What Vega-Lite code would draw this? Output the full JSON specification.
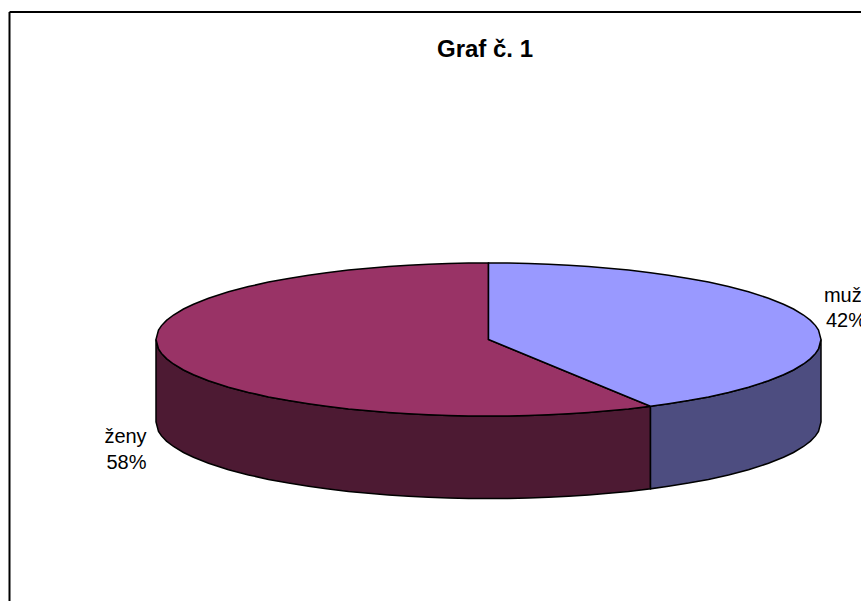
{"$schema":"https://vega.github.io/schema/vega-lite/v6.json","width":861,"height":601,"padding":0,"autosize":{"type":"none"},"background":"white","view":{"stroke":null},
"datasets":{
"top_muzi":[{"i":1,"x":488.5,"y":263,"y2":339.5},{"i":2,"x":508.5,"y":263.1,"y2":347.7},{"i":3,"x":528.5,"y":263.6,"y2":356},{"i":4,"x":548.5,"y":264.3,"y2":364.2},{"i":5,"x":568.5,"y":265.2,"y2":372.5},{"i":6,"x":588.5,"y":266.5,"y2":380.7},{"i":7,"x":608.5,"y":268.2,"y2":389},{"i":8,"x":628.5,"y":270.1,"y2":397.2},{"i":9,"x":650.5,"y":272.7,"y2":406.3},{"i":10,"x":668.5,"y":275.2,"y2":403.8},{"i":11,"x":688.5,"y":278.4,"y2":400.6},{"i":12,"x":708.5,"y":282.1,"y2":396.9},{"i":13,"x":728.5,"y":286.6,"y2":392.4},{"i":14,"x":748.5,"y":291.8,"y2":387.2},{"i":15,"x":768.5,"y":298.2,"y2":380.8},{"i":16,"x":783.5,"y":304.2,"y2":374.8},{"i":17,"x":793.5,"y":309,"y2":370},{"i":18,"x":803.5,"y":315,"y2":364},{"i":19,"x":810.5,"y":320.4,"y2":358.6},{"i":20,"x":815.5,"y":325.6,"y2":353.4},{"i":21,"x":818.5,"y":330.1,"y2":348.9},{"i":22,"x":821,"y":339.5,"y2":339.5}],
"top_zeny":[{"i":1,"x":156,"y":339.5,"y2":339.5},{"i":2,"x":158.5,"y":330.1,"y2":348.9},{"i":3,"x":161.5,"y":325.6,"y2":353.4},{"i":4,"x":166.5,"y":320.4,"y2":358.6},{"i":5,"x":173.5,"y":315,"y2":364},{"i":6,"x":183.5,"y":309,"y2":370},{"i":7,"x":193.5,"y":304.2,"y2":374.8},{"i":8,"x":208.5,"y":298.2,"y2":380.8},{"i":9,"x":228.5,"y":291.8,"y2":387.2},{"i":10,"x":248.5,"y":286.6,"y2":392.4},{"i":11,"x":268.5,"y":282.1,"y2":396.9},{"i":12,"x":288.5,"y":278.4,"y2":400.6},{"i":13,"x":308.5,"y":275.2,"y2":403.8},{"i":14,"x":326.5,"y":272.7,"y2":406.3},{"i":15,"x":348.5,"y":270.1,"y2":408.9},{"i":16,"x":368.5,"y":268.2,"y2":410.8},{"i":17,"x":388.5,"y":266.5,"y2":412.5},{"i":18,"x":408.5,"y":265.2,"y2":413.8},{"i":19,"x":428.5,"y":264.3,"y2":414.7},{"i":20,"x":448.5,"y":263.6,"y2":415.4},{"i":21,"x":468.5,"y":263.1,"y2":415.9},{"i":22,"x":488.5,"y":263,"y2":416},{"i":23,"x":488.5,"y":339.5,"y2":416},{"i":24,"x":508.5,"y":347.7,"y2":415.9},{"i":25,"x":528.5,"y":356,"y2":415.4},{"i":26,"x":548.5,"y":364.2,"y2":414.7},{"i":27,"x":568.5,"y":372.5,"y2":413.8},{"i":28,"x":588.5,"y":380.7,"y2":412.5},{"i":29,"x":608.5,"y":389,"y2":410.8},{"i":30,"x":628.5,"y":397.2,"y2":408.9},{"i":31,"x":650.5,"y":406.3,"y2":406.3}],
"side_muzi":[{"i":1,"x":650.5,"y":406.3,"y2":488.8},{"i":2,"x":668.5,"y":403.8,"y2":486.3},{"i":3,"x":688.5,"y":400.6,"y2":483.1},{"i":4,"x":708.5,"y":396.9,"y2":479.4},{"i":5,"x":728.5,"y":392.4,"y2":474.9},{"i":6,"x":748.5,"y":387.2,"y2":469.7},{"i":7,"x":768.5,"y":380.8,"y2":463.3},{"i":8,"x":783.5,"y":374.8,"y2":457.3},{"i":9,"x":793.5,"y":370,"y2":452.5},{"i":10,"x":803.5,"y":364,"y2":446.5},{"i":11,"x":810.5,"y":358.6,"y2":441.1},{"i":12,"x":815.5,"y":353.4,"y2":435.9},{"i":13,"x":818.5,"y":348.9,"y2":431.4},{"i":14,"x":821,"y":339.5,"y2":422}],
"side_zeny":[{"i":1,"x":156,"y":339.5,"y2":422},{"i":2,"x":158.5,"y":348.9,"y2":431.4},{"i":3,"x":161.5,"y":353.4,"y2":435.9},{"i":4,"x":166.5,"y":358.6,"y2":441.1},{"i":5,"x":173.5,"y":364,"y2":446.5},{"i":6,"x":183.5,"y":370,"y2":452.5},{"i":7,"x":193.5,"y":374.8,"y2":457.3},{"i":8,"x":208.5,"y":380.8,"y2":463.3},{"i":9,"x":228.5,"y":387.2,"y2":469.7},{"i":10,"x":248.5,"y":392.4,"y2":474.9},{"i":11,"x":268.5,"y":396.9,"y2":479.4},{"i":12,"x":288.5,"y":400.6,"y2":483.1},{"i":13,"x":308.5,"y":403.8,"y2":486.3},{"i":14,"x":326.5,"y":406.3,"y2":488.8},{"i":15,"x":348.5,"y":408.9,"y2":491.4},{"i":16,"x":368.5,"y":410.8,"y2":493.3},{"i":17,"x":388.5,"y":412.5,"y2":495},{"i":18,"x":408.5,"y":413.8,"y2":496.3},{"i":19,"x":428.5,"y":414.7,"y2":497.2},{"i":20,"x":448.5,"y":415.4,"y2":497.9},{"i":21,"x":468.5,"y":415.9,"y2":498.4},{"i":22,"x":488.5,"y":416,"y2":498.5},{"i":23,"x":508.5,"y":415.9,"y2":498.4},{"i":24,"x":528.5,"y":415.4,"y2":497.9},{"i":25,"x":548.5,"y":414.7,"y2":497.2},{"i":26,"x":568.5,"y":413.8,"y2":496.3},{"i":27,"x":588.5,"y":412.5,"y2":495},{"i":28,"x":608.5,"y":410.8,"y2":493.3},{"i":29,"x":628.5,"y":408.9,"y2":491.4},{"i":30,"x":650.5,"y":406.3,"y2":488.8}],
"frame_top":[{"x":9.5,"x2":861,"y":12}],
"frame_left":[{"x":9.5,"y":12,"y2":601}],
"labels":[{"t":"muži","x":845,"y":302},{"t":"42%","x":846,"y":327},{"t":"ženy","x":125.5,"y":443},{"t":"58%","x":126.5,"y":469}],
"title":[{"t":"Graf č. 1","x":485,"y":57}]
},
"encoding":{
"x":{"field":"x","type":"quantitative","scale":{"domain":[0,861],"nice":false,"zero":false},"axis":null},
"y":{"field":"y","type":"quantitative","scale":{"domain":[601,0],"nice":false,"zero":false},"axis":null}
},
"layer":[
{"data":{"name":"side_zeny"},"mark":{"type":"area","orient":"vertical","color":"#4D1A33","stroke":"#000000","strokeWidth":1.5},"encoding":{"y2":{"field":"y2"}}},
{"data":{"name":"side_muzi"},"mark":{"type":"area","orient":"vertical","color":"#4D4D80","stroke":"#000000","strokeWidth":1.5},"encoding":{"y2":{"field":"y2"}}},
{"data":{"name":"top_zeny"},"mark":{"type":"area","orient":"vertical","color":"#993366","stroke":"#000000","strokeWidth":1.5},"encoding":{"y2":{"field":"y2"}}},
{"data":{"name":"top_muzi"},"mark":{"type":"area","orient":"vertical","color":"#9999FF","stroke":"#000000","strokeWidth":1.5},"encoding":{"y2":{"field":"y2"}}},
{"data":{"name":"frame_top"},"mark":{"type":"rule","color":"#000000","strokeWidth":2},"encoding":{"x2":{"field":"x2"}}},
{"data":{"name":"frame_left"},"mark":{"type":"rule","color":"#000000","strokeWidth":2},"encoding":{"y2":{"field":"y2"}}},
{"data":{"name":"labels"},"mark":{"type":"text","font":"Liberation Sans","fontSize":20,"color":"#000000","align":"center","baseline":"alphabetic"},"encoding":{"text":{"field":"t"}}},
{"data":{"name":"title"},"mark":{"type":"text","font":"Liberation Sans","fontSize":24,"fontWeight":"bold","color":"#000000","align":"center","baseline":"alphabetic"},"encoding":{"text":{"field":"t"}}}
]}
